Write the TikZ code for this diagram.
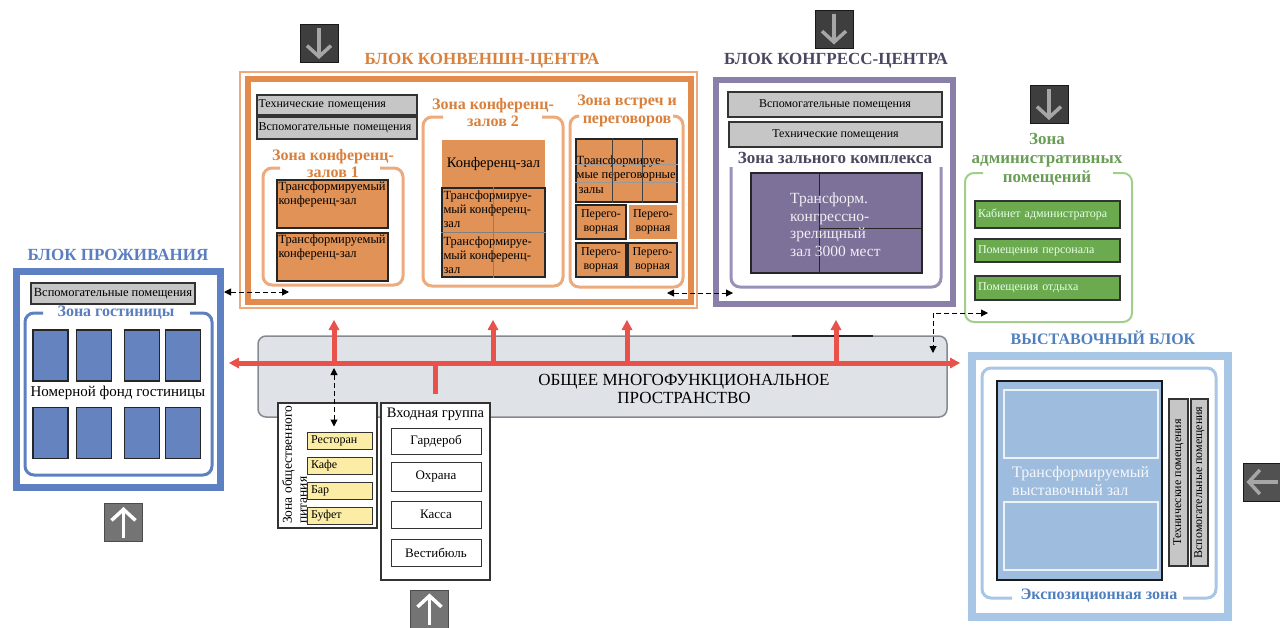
\documentclass[tikz,border=0pt]{standalone}
\usepackage{fontspec}
\setmainfont{Liberation Serif}
\usetikzlibrary{arrows.meta}

\definecolor{convorange}{HTML}{E38B4D}
\definecolor{convlight}{HTML}{EDAA7C}
\definecolor{convtitle}{HTML}{D8803C}
\definecolor{convfill}{HTML}{E09257}
\definecolor{hotelblue}{HTML}{5C80C2}
\definecolor{hotelroom}{HTML}{6584BF}
\definecolor{hoteltitle}{HTML}{5A7EBF}
\definecolor{congpurple}{HTML}{8A7FA8}
\definecolor{congfill}{HTML}{7D7199}
\definecolor{congtitle}{HTML}{4C4760}
\definecolor{congbr}{HTML}{9A90B8}
\definecolor{admingreen}{HTML}{6CAA50}
\definecolor{adminbr}{HTML}{A2CE8C}
\definecolor{admintitle}{HTML}{6A9E56}
\definecolor{exhblue}{HTML}{A8C6E6}
\definecolor{exhfill}{HTML}{9DBCDE}
\definecolor{exhtitle}{HTML}{4F7FBE}
\definecolor{redarrow}{HTML}{E8524A}
\definecolor{mffill}{HTML}{DFE2E7}
\definecolor{mfborder}{HTML}{858A90}
\definecolor{roomgray}{HTML}{C6C6C6}
\definecolor{foodyellow}{HTML}{FBEDA6}
\definecolor{icondark}{HTML}{3E3E3E}
\definecolor{iconmid}{HTML}{747474}
\definecolor{icongray}{HTML}{A6A6A6}

\begin{document}
\begin{tikzpicture}[x=1pt, y=-1pt,
  every node/.style={font=\fontsize{12.5}{14}\selectfont, inner sep=1pt},
  blocktitle/.style={font=\fontsize{17}{19}\selectfont\bfseries, align=center},
  zonetitle/.style={font=\fontsize{16}{17.5}\selectfont\bfseries, align=center},
  band/.style={draw=#1, line width=7pt},
  zonebr/.style={draw=#1, line width=3pt, rounded corners=9pt},
  grayroom/.style={draw=black!80, fill=roomgray, line width=1.1pt},
  convroom/.style={draw=black!85, fill=convfill, line width=1.4pt},
  roomlbl/.style={anchor=north west, align=left, inner sep=2pt},
  hroom/.style={draw=black!85, fill=hotelroom, line width=1.2pt, minimum width=35pt, minimum height=51pt},
  negroom/.style={fill=convfill, minimum width=49pt, minimum height=34pt, align=center, font=\fontsize{12}{14}\selectfont},
  greenroom/.style={draw=black!80, fill=admingreen, line width=1.2pt, text=white!90!green, text width=139pt, inner xsep=3pt, align=left, font=\fontsize{12}{14}\selectfont},
  foodroom/.style={draw=black!80, fill=foodyellow, line width=1pt, text width=57pt, inner xsep=4pt, align=left, minimum height=17pt, font=\fontsize{12}{14}\selectfont},
  entroom/.style={draw=black!80, fill=white, line width=1pt, minimum width=90pt, font=\fontsize{13}{14}\selectfont},
  icondown/.style={draw=black!90, fill=icondark, line width=1pt, minimum size=38pt},
  iconup/.style={draw=black!70, fill=iconmid, line width=1pt, minimum size=38pt},
  iconarr/.style={line width=3.5pt, -{Straight Barb[length=11pt, width=24pt]}},
  redline/.style={draw=redarrow, line width=5pt},
  redup/.style={redline, -{Triangle[length=10pt, width=11pt, line width=0pt, sep=5pt]}},
  redboth/.style={redline, {Triangle[length=10pt, width=11pt, line width=0pt, sep=5pt]}-{Triangle[length=10pt, width=11pt, line width=0pt, sep=5pt]}},
  dasharrow/.style={draw=black, line width=1pt, dash pattern=on 5pt off 3pt, {Triangle[length=7pt, width=7pt]}-{Triangle[length=7pt, width=7pt]}}
]
  \useasboundingbox (0,0) rectangle (1280,627);

  % block of living
  \node[band=hotelblue, minimum width=204pt, minimum height=216pt] (hotel) at (118,379) {};
  \node[blocktitle, text=hoteltitle] (hoteltitle) at (118,255) {БЛОК ПРОЖИВАНИЯ};
  \node[grayroom, minimum width=164pt, minimum height=21pt] (hvp) at (113,293.5) {Вспомогательные помещения};
  \draw[zonebr=hotelblue] (43,313) -- (25,313) -- (25,475) -- (212,475) -- (212,313) -- (190,313);
  \node[zonetitle, text=hoteltitle] (hzone) at (116,313) {Зона гостиницы};
  \node[hroom] (hr1) at (50.5,355.5) {};
  \node[hroom] (hr2) at (94,355.5) {};
  \node[hroom] (hr3) at (142,355.5) {};
  \node[hroom] (hr4) at (183,355.5) {};
  \node[hroom] (hr5) at (50.5,433) {};
  \node[hroom] (hr6) at (94,433) {};
  \node[hroom] (hr7) at (142,433) {};
  \node[hroom] (hr8) at (183,433) {};
  \node[font=\fontsize{15}{17}\selectfont] (hfund) at (118,393) {Номерной фонд гостиницы};
  \node[iconup] (hotelin) at (123.5,522.5) {};
  \draw[iconarr, white] ([yshift=4pt]hotelin.south) -- ([yshift=-4pt]hotelin.north);

  % convention centre
  \node[draw=convlight, line width=1.5pt, minimum width=457pt, minimum height=236pt] (convout) at (468.5,190) {};
  \node[band=convorange, line width=6pt, minimum width=443pt, minimum height=223pt] (conv) at (469,190) {};
  \node[blocktitle, text=convtitle] (convtitle) at (482,61) {БЛОК КОНВЕНШН-ЦЕНТРА};
  \node[icondown] (convin) at (319,43.5) {};
  \draw[iconarr, icongray] ([yshift=-4pt]convin.north) -- ([yshift=4pt]convin.south);
  \node[grayroom, text width=157pt, inner xsep=1.5pt, align=left, minimum height=20pt, font=\fontsize{12}{14}\selectfont] (ctp) at (337,105) {Технические помещения};
  \node[grayroom, text width=157pt, inner xsep=1.5pt, align=left, minimum height=22pt, font=\fontsize{12}{14}\selectfont] (cvp) at (337,128) {Вспомогательные помещения};
  % zone of halls 1
  \draw[zonebr=convlight] (280,168) -- (263,168) -- (263,285) -- (403,285) -- (403,168) -- (380,168);
  \node[zonetitle, text=convtitle] (cz1) at (333,163.5) {Зона конференц-\\залов 1};
  \node[convroom, minimum width=111pt, minimum height=48pt,
    label={[roomlbl]north west:{Трансформируемый\\конференц-зал}}] (cz1a) at (332.5,204) {};
  \node[convroom, minimum width=111pt, minimum height=48pt,
    label={[roomlbl]north west:{Трансформируемый\\конференц-зал}}] (cz1b) at (332.5,257) {};
  % zone of halls 2
  \draw[zonebr=convlight] (443,117) -- (423,117) -- (423,286) -- (563,286) -- (563,117) -- (542,117);
  \node[zonetitle, text=convtitle] (cz2) at (493,112.5) {Зона конференц-\\залов 2};
  \node[fill=convfill, minimum width=103pt, minimum height=48pt, font=\fontsize{14.5}{16}\selectfont] (cz2hall) at (493.5,164) {Конференц-зал};
  \node[convroom, minimum width=103pt, minimum height=89pt] (cz2big) at (493.5,232.5) {};
  \draw[black!50, line width=0.5pt] (cz2big.north) -- (cz2big.south);
  \draw[black!50, line width=0.5pt] (cz2big.west) -- (cz2big.east);
  \node[roomlbl] (cz2t1) at ([yshift=-1pt]cz2big.north west) {Трансформируе-\\мый конференц-\\зал};
  \node[roomlbl] (cz2t2) at ([yshift=-2pt]cz2big.west) {Трансформируе-\\мый конференц-\\зал};
  % zone of meetings
  \draw[zonebr=convlight] (577,116) -- (570,116) -- (570,287) -- (683,287) -- (683,116) -- (673,116);
  \node[zonetitle, text=convtitle] (cz3) at (627,111) {Зона встреч и\\переговоров};
  \node[convroom, line width=1.2pt, minimum width=101pt, minimum height=63pt,
    label={[roomlbl, font=\fontsize{12.5}{14.5}\selectfont, inner sep=1pt, yshift=-16pt]north west:{Трансформируе-\\мые переговорные\\\hspace{2pt}залы}}] (ngrid) at (626.5,170.5) {};
  \draw[black!40, line width=0.5pt] ([yshift=-26pt]ngrid.north west) -- ([yshift=-26pt]ngrid.north east);
  \draw[black!40, line width=0.5pt] ([yshift=-44pt]ngrid.north west) -- ([yshift=-44pt]ngrid.north east);
  \draw[black!75, line width=0.8pt] ([xshift=37pt]ngrid.north west) -- ([xshift=37pt]ngrid.south west);
  \draw[black!75, line width=0.8pt] ([xshift=67pt]ngrid.north west) -- ([xshift=67pt]ngrid.south west);
  \node[negroom, draw=black!85, line width=1.2pt, minimum width=50pt] (nr1) at (601,222) {Перего-\\ворная};
  \node[negroom, minimum width=48pt] (nr2) at (653,222) {Перего-\\ворная};
  \node[negroom, draw=black!85, line width=1.2pt, minimum width=50pt] (nr3) at (601,260) {Перего-\\ворная};
  \node[negroom, draw=black!85, line width=1.2pt, minimum width=49pt] (nr4) at (652.5,260) {Перего-\\ворная};

  % congress centre
  \node[band=congpurple, line width=6pt, minimum width=237pt, minimum height=224pt] (cong) at (834.5,192) {};
  \node[blocktitle, text=congtitle] (congtitle) at (836,61) {БЛОК КОНГРЕСС-ЦЕНТРА};
  \node[icondown] (congin) at (834,29) {};
  \draw[iconarr, icongray] ([yshift=-4pt]congin.north) -- ([yshift=4pt]congin.south);
  \node[grayroom, minimum width=214pt, minimum height=25pt, font=\fontsize{12}{14}\selectfont] (gvp) at (835,104.5) {Вспомогательные помещения};
  \node[grayroom, minimum width=213pt, minimum height=25pt, font=\fontsize{12}{14}\selectfont] (gtp) at (835.5,134.5) {Технические помещения};
  \node[zonetitle, text=congtitle, font=\fontsize{17}{19}\selectfont\bfseries] (gzone) at (835,158) {Зона зального комплекса};
  \draw[zonebr=congbr] (731,167) -- (731,287) -- (941,287) -- (941,167);
  \node[draw=black!85, fill=congfill, line width=1.2pt, minimum width=171pt, minimum height=100pt] (ghall) at (836.5,223) {};
  \draw[black!85, line width=1pt] ([xshift=69pt]ghall.north west) -- ([xshift=69pt]ghall.south west);
  \draw[black!85, line width=1pt] ([xshift=69pt, yshift=-5pt]ghall.west) -- ([yshift=-5pt]ghall.east);
  \node[anchor=west, align=left, text=white!88!congfill, font=\fontsize{15.5}{17.5}\selectfont] (ghalltext) at (789,224.5) {Трансформ.\\конгрессно-\\зрелищный\\зал 3000 мест};

  % administrative zone
  \node[icondown] (admin) at (1049,104.5) {};
  \draw[iconarr, icongray] ([yshift=-4pt]admin.north) -- ([yshift=4pt]admin.south);
  \node[zonetitle, text=admintitle, font=\fontsize{17}{19}\selectfont\bfseries] (azone) at (1047,159) {Зона\\административных\\помещений};
  \draw[zonebr=adminbr, line width=2pt] (983,173) -- (965,173) -- (965,322) -- (1132,322) -- (1132,173) -- (1113,173);
  \node[greenroom, minimum height=27pt] (ar1) at (1047.5,214.5) {Кабинет администратора};
  \node[greenroom, minimum height=23pt] (ar2) at (1047.5,250.5) {Помещения персонала};
  \node[greenroom, minimum height=24pt] (ar3) at (1047.5,288) {Помещения отдыха};

  % common multifunctional space
  \node[draw=mfborder, fill=mffill, line width=1.5pt, rounded corners=8pt, minimum width=689pt, minimum height=81pt] (mf) at (602.5,376.5) {};
  \node[font=\fontsize{17}{18}\selectfont, align=center] (mftext) at (684,389) {ОБЩЕЕ МНОГОФУНКЦИОНАЛЬНОЕ\\ПРОСТРАНСТВО};
  \draw[black!85, line width=1.8pt] (792,336) -- (873,336);

  % red main routes
  \coordinate (mlL) at (224,363);
  \coordinate (mlR) at (965,363);
  \coordinate (up1) at (334,315);
  \coordinate (up2) at (493,315);
  \coordinate (up3) at (627,315);
  \coordinate (up4) at (836,315);
  \draw[redboth] (mlL) -- (mlR);
  \draw[redup] (up1 |- mlL) -- (up1);
  \draw[redup] (up2 |- mlL) -- (up2);
  \draw[redup] (up3 |- mlL) -- (up3);
  \draw[redup] (up4 |- mlL) -- (up4);

  % catering zone
  \node[draw=black!80, fill=white, line width=1.2pt, minimum width=99pt, minimum height=125pt] (food) at (327.5,465.5) {};
  \node[rotate=90, anchor=north west, align=left, font=\fontsize{13.5}{15}\selectfont] (foodtitle) at (281,525) {Зона общественного\\питания};
  \node[foodroom] (rest) at (339.5,440.5) {Ресторан};
  \node[foodroom] (cafe) at (339.5,465.5) {Кафе};
  \node[foodroom] (bar) at (339.5,490.5) {Бар};
  \node[foodroom] (buf) at (339.5,515.5) {Буфет};

  % entrance group
  \node[draw=black!80, fill=white, line width=1.2pt, minimum width=109pt, minimum height=177pt] (entr) at (435.5,491.5) {};
  \draw[redline] (entr.north |- mlL) -- ([yshift=8pt]entr.north);
  \node[font=\fontsize{14.5}{16}\selectfont] (entrtitle) at (435.5,414) {Входная группа};
  \node[entroom, minimum height=26pt] (wardrobe) at (436,441) {Гардероб};
  \node[entroom, minimum height=29pt] (guard) at (436,476.5) {Охрана};
  \node[entroom, minimum height=27pt] (cash) at (436,514.5) {Касса};
  \node[entroom, minimum height=27pt] (lobby) at (436,552.5) {Вестибюль};
  \node[iconup] (entrin) at (429.5,609) {};
  \draw[iconarr, white] ([yshift=4pt]entrin.south) -- ([yshift=-4pt]entrin.north);

  % exhibition block
  \node[band=exhblue, line width=8pt, minimum width=256pt, minimum height=261pt] (exh) at (1100,486.5) {};
  \node[blocktitle, text=exhtitle, font=\fontsize{16}{18}\selectfont\bfseries] (exhtitle) at (1103,338) {ВЫСТАВОЧНЫЙ БЛОК};
  \draw[zonebr=exhblue] (1012,598) -- (982,598) -- (982,368) -- (1216,368) -- (1216,598) -- (1183,598);
  \node[zonetitle, text=exhtitle, font=\fontsize{16}{17}\selectfont\bfseries] (ezone) at (1099,596) {Экспозиционная зона};
  \node[draw=black!90, fill=exhfill, line width=2pt, minimum width=165pt, minimum height=199pt] (ehall) at (1079.5,480.5) {};
  \node[draw=white!80!exhfill, line width=1.2pt, minimum width=154pt, minimum height=68pt] (ehall1) at (1081,424) {};
  \node[draw=white!80!exhfill, line width=1.2pt, minimum width=154pt, minimum height=68pt] (ehall2) at (1081,536) {};
  \node[anchor=west, align=left, text=white!90!exhfill, font=\fontsize{16}{18}\selectfont] (ehalltext) at (1011,481) {Трансформируемый\\выставочный зал};
  \node[grayroom, rotate=90, minimum width=167pt, minimum height=19pt, font=\fontsize{12}{14}\selectfont] (etp) at (1178.5,482.5) {Технические помещения};
  \node[grayroom, rotate=90, minimum width=167pt, minimum height=17pt, font=\fontsize{12}{14}\selectfont] (evp) at (1199.5,482.5) {Вспомогательные помещения};
  \node[icondown, fill=icondark!90!white] (exhin) at (1262,482) {};
  \draw[iconarr, icongray] ([xshift=-4pt]exhin.east) -- ([xshift=4pt]exhin.west);

  % links
  \coordinate (d1a) at (224,292);
  \coordinate (d1b) at (289,292);
  \coordinate (d2a) at (667,293);
  \coordinate (d2b) at (733,293);
  \coordinate (d3a) at (988,313);
  \coordinate (d3b) at (933,353);
  \coordinate (d4a) at (334,368);
  \draw[dasharrow] (d1a) -- (d1b);
  \draw[dasharrow] (d2a) -- (d2b);
  \draw[dasharrow] (d3a) -| (d3b);
  \draw[dasharrow, shorten >=5pt] (d4a) -- (d4a |- rest.north);
\end{tikzpicture}
\end{document}
